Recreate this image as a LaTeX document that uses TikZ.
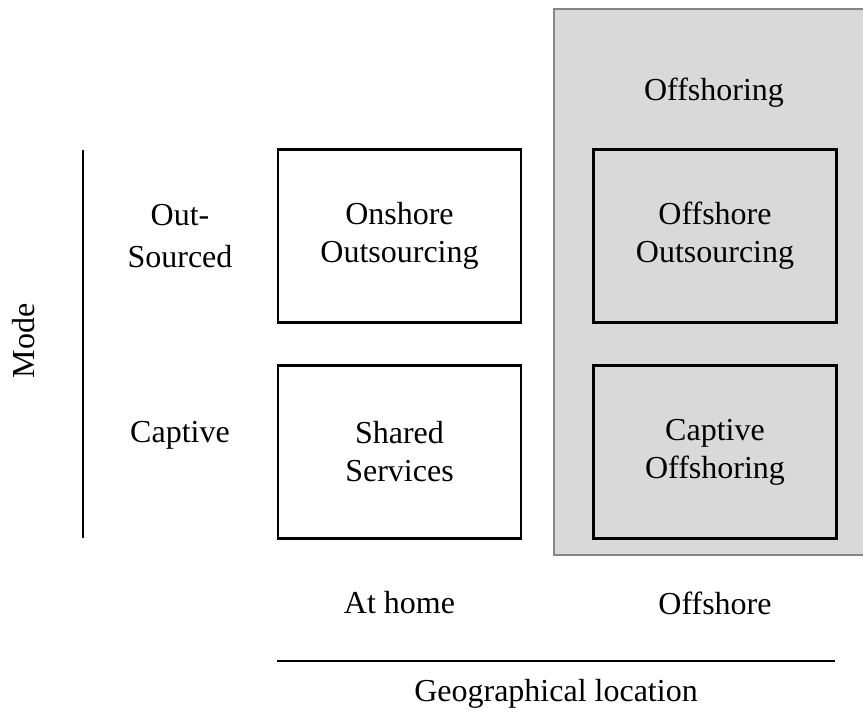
\documentclass[tikz,border=0pt]{standalone}
\usepackage{fontspec}
\setmainfont{Liberation Serif}
\definecolor{shade}{HTML}{D9D9D9}
\definecolor{shadeline}{HTML}{868686}
\tikzset{
  cell/.style={draw,line width=2.2pt,minimum width=243pt,minimum height=173pt,align=center,inner sep=0pt},
  lbl/.style={align=center,inner sep=0pt},
  axis/.style={line width=2.2pt}
}
\begin{document}
\begin{tikzpicture}[x=1pt,y=-1pt,font=\fontsize{32}{38}\selectfont]
    \useasboundingbox (0,0) rectangle (863,713);
    \fill[white] (0,0) rectangle (863,713);
    \draw[fill=shade,draw=shadeline,line width=2.4pt] (554,9) rectangle (875,555);

    \node[lbl] (offshoring) at (714,93) {Offshoring};

    \node[cell] (onshore) at (399.5,236) {Onshore\\Outsourcing};
    \node[cell] (offout) at (715,236) {Offshore\\Outsourcing};
    \node[cell] (shared) at (399.5,452) {Shared\\Services};
    \node[cell] (captoff) at (715,452) {Captive\\Offshoring};

    \node[lbl,font=\fontsize{32}{42}\selectfont] (outsrc) at (180,236) {Out-\\Sourced};
    \node[lbl] (captive) at (180,435) {Captive};
    \node[lbl,rotate=90] (mode) at (24,341) {Mode};
    \draw[axis] (83,150) -- (83,538);

    \node[lbl] (athome) at (399.5,603) {At home};
    \node[lbl] (offshore) at (715,603) {Offshore};
    \draw[axis] (277,661) -- (835,661);
    \node[lbl] (geo) at (556,694) {Geographical location};
\end{tikzpicture}
\end{document}
